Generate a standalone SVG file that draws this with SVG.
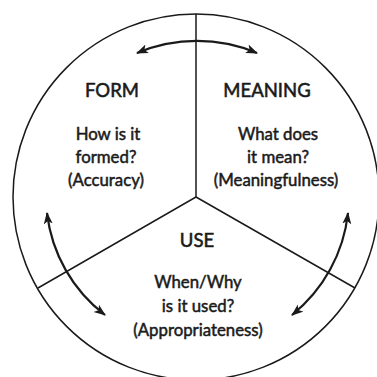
<svg xmlns="http://www.w3.org/2000/svg" width="377" height="377" viewBox="0 0 377 377">
<style>
.ln{fill:none;stroke:#1a1a1a;stroke-width:1.5}
.ar{fill:none;stroke:#1a1a1a;stroke-width:2.2;marker-start:url(#ah);marker-end:url(#ah)}
.h{font-family:Lato,"Open Sans",sans-serif;font-size:18.5px;fill:#1a1a1a;stroke:#1a1a1a;stroke-width:0.55;text-anchor:middle}
.t{font-family:Lato,"Open Sans",sans-serif;font-size:16.8px;fill:#1a1a1a;stroke:#1a1a1a;stroke-width:0.5;text-anchor:middle}
</style>
<defs>
<marker id="ah" viewBox="0 0 12 10" refX="11" refY="5" markerWidth="12" markerHeight="10" markerUnits="userSpaceOnUse" orient="auto-start-reverse">
<path d="M0,0.5 L12,5 L0,9.5 L3,5 Z" fill="#1a1a1a"/>
</marker>
</defs>
<rect width="377" height="377" fill="#fff"/>
<g id="frame">
<circle class="ln" cx="196" cy="197" r="183"/>
<path class="ln" d="M196,14 L196,197 L38,288 M196,197 L355,288"/>
</g>
<g id="connectors">
<path class="ar" d="M137,53 A155,155 0 0 1 257,53"/>
<path class="ar" d="M47,213 A150,150 0 0 0 105,315"/>
<path class="ar" d="M348,213 A152,152 0 0 1 292,315"/>
</g>
<g id="form">
<text class="h" x="112" y="97">FORM</text>
<text class="t" x="108" y="140">How is it</text>
<text class="t" x="106" y="163">formed?</text>
<text class="t" x="106" y="186">(Accuracy)</text>
</g>
<g id="meaning">
<text class="h" x="267" y="97">MEANING</text>
<text class="t" x="278" y="140">What does</text>
<text class="t" x="278" y="163">it mean?</text>
<text class="t" x="276" y="186">(Meaningfulness)</text>
</g>
<g id="use">
<text class="h" x="197" y="247">USE</text>
<text class="t" x="198" y="288">When/Why</text>
<text class="t" x="198" y="312">is it used?</text>
<text class="t" x="198" y="336">(Appropriateness)</text>
</g>
</svg>
